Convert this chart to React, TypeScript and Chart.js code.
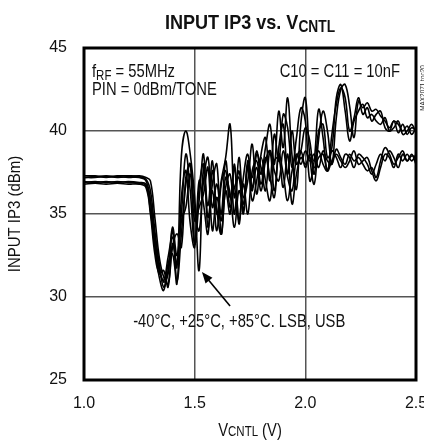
import React, { useEffect, useRef } from "react";
import { Chart, registerables } from "chart.js";

Chart.register(...registerables);

// V_CNTL (V)
const VCNTL = [
  1.0, 1.05, 1.1, 1.15, 1.2, 1.25, 1.28, 1.3, 1.32, 1.34,
  1.36, 1.38, 1.4, 1.42, 1.44, 1.46, 1.48, 1.5, 1.52, 1.54,
  1.56, 1.58, 1.6, 1.62, 1.64, 1.66, 1.68, 1.7, 1.72, 1.74,
  1.76, 1.78, 1.8, 1.82, 1.84, 1.86, 1.88, 1.9, 1.92, 1.94,
  1.96, 1.98, 2.0, 2.02, 2.04, 2.06, 2.08, 2.1, 2.12, 2.14,
  2.16, 2.18, 2.2, 2.22, 2.24, 2.26, 2.28, 2.3, 2.32, 2.34,
  2.36, 2.38, 2.4, 2.42, 2.44, 2.46, 2.48, 2.5,
];

// INPUT IP3 (dBm) — six traces (-40/+25/+85 °C, LSB/USB)
const IIP3_U1 = [
  37.2, 37.25, 37.2, 37.25, 37.2, 37.2, 37.0, 35.8, 33.2, 31.6,
  31.0, 32.4, 33.6, 31.8, 38.5, 40.0, 38.6, 36.0, 31.6, 37.8,
  35.5, 38.2, 35.0, 37.0, 38.4, 40.4, 36.0, 37.6, 35.2, 38.2,
  37.2, 38.8, 37.4, 39.0, 40.4, 38.0, 41.2, 39.0, 42.0, 38.5,
  36.5, 40.5, 42.0, 38.5, 36.8, 39.5, 41.2, 40.0, 38.0, 40.8,
  42.5, 42.8, 41.5, 39.6, 41.8, 41.4, 41.7, 41.2, 41.3, 40.9,
  40.6, 40.2, 40.6, 40.4, 40.0, 40.3, 39.8, 40.2,
];
const IIP3_U2 = [
  37.3, 37.3, 37.25, 37.3, 37.3, 37.25, 37.1, 36.4, 34.0, 32.0,
  30.6, 31.6, 34.2, 32.5, 35.0, 38.6, 36.4, 33.2, 35.8, 38.6,
  34.2, 36.8, 38.0, 33.8, 36.6, 37.4, 35.0, 38.4, 36.0, 37.0,
  39.2, 36.2, 38.6, 39.6, 37.0, 39.8, 38.2, 41.0, 40.2, 37.8,
  39.6, 41.4, 40.6, 37.0, 38.2, 41.3, 39.6, 37.6, 39.8, 41.6,
  42.6, 42.0, 40.0, 40.8, 42.0, 41.0, 41.4, 40.6, 41.0, 41.2,
  40.2, 40.0, 40.6, 39.9, 40.4, 39.8, 40.2, 40.0,
];
const IIP3_U3 = [
  37.2, 37.2, 37.3, 37.2, 37.25, 37.3, 37.2, 37.0, 34.8, 32.4,
  31.2, 30.8, 33.0, 33.8, 33.0, 37.2, 38.0, 35.2, 34.0, 37.0,
  38.4, 35.4, 36.8, 35.0, 38.2, 36.0, 37.8, 34.6, 37.2, 38.6,
  36.6, 37.8, 36.4, 38.2, 38.8, 36.4, 39.0, 40.4, 37.4, 40.0,
  38.0, 38.8, 40.2, 39.4, 37.4, 40.0, 40.4, 38.4, 39.0, 42.0,
  42.8, 41.2, 39.4, 40.6, 41.2, 41.6, 40.8, 41.0, 40.6, 40.4,
  40.8, 40.0, 40.2, 40.6, 39.8, 40.0, 40.4, 39.9,
];
const IIP3_L1 = [
  36.9, 36.95, 36.9, 36.95, 36.9, 36.85, 36.7, 35.2, 33.0, 31.2,
  30.4, 32.0, 32.6, 30.8, 36.0, 37.6, 34.4, 33.0, 37.0, 35.6,
  33.8, 37.6, 35.2, 33.8, 36.4, 35.0, 38.0, 34.4, 36.8, 35.0,
  37.6, 38.2, 36.8, 38.4, 37.2, 36.0, 38.6, 37.4, 35.8, 37.6,
  38.6, 38.0, 38.8, 38.2, 38.6, 37.8, 38.8, 38.2, 38.0, 38.9,
  38.4, 38.0, 38.6, 38.2, 38.4, 38.0, 37.6, 37.8, 37.2, 38.2,
  39.0, 38.6, 38.0, 38.4, 38.8, 38.2, 38.5, 38.4,
];
const IIP3_L2 = [
  36.95, 36.9, 36.95, 36.9, 36.95, 36.9, 36.8, 35.8, 33.6, 31.8,
  30.9, 31.4, 34.0, 31.0, 33.8, 36.8, 38.0, 33.2, 36.6, 38.0,
  34.8, 36.4, 34.0, 36.8, 37.6, 35.4, 36.6, 37.2, 35.0, 37.8,
  36.4, 38.6, 37.8, 36.4, 38.8, 37.6, 37.0, 38.8, 37.2, 36.4,
  38.4, 38.8, 37.8, 38.6, 38.2, 38.8, 38.0, 37.6, 38.8, 38.4,
  37.8, 38.6, 38.4, 37.8, 38.6, 38.4, 38.0, 37.4, 38.0, 38.6,
  38.2, 38.8, 38.4, 37.8, 38.6, 38.2, 38.6, 38.0,
];
const IIP3_L3 = [
  36.8, 36.85, 36.8, 36.85, 36.8, 36.8, 36.6, 35.0, 32.6, 31.4,
  31.6, 30.6, 33.2, 32.0, 34.6, 35.4, 37.4, 34.6, 35.4, 36.2,
  37.8, 34.0, 36.0, 34.6, 37.2, 36.2, 34.2, 36.4, 35.6, 38.0,
  35.8, 37.0, 38.4, 37.0, 35.8, 38.2, 38.4, 36.6, 38.6, 35.6,
  37.4, 38.4, 38.0, 38.4, 37.8, 38.4, 38.6, 37.6, 38.2, 38.6,
  38.2, 37.8, 38.2, 38.8, 38.0, 38.2, 38.4, 37.6, 37.0, 37.8,
  38.6, 38.4, 37.8, 38.6, 38.2, 38.6, 38.2, 38.6,
];

const SERIES = [IIP3_U1, IIP3_U2, IIP3_U3, IIP3_L1, IIP3_L2, IIP3_L3];
const SERIES_NAMES = ["U1", "U2", "U3", "L1", "L2", "L3"];

const X_MIN = 1.0;
const X_MAX = 2.5;
const X_STEP = 0.5;
const Y_MIN = 25;
const Y_MAX = 45;
const Y_STEP = 5;

const TITLE_MAIN = "INPUT IP3 vs. V";
const TITLE_SUB = "CNTL";
const X_TITLE_MAIN = "V";
const X_TITLE_SUB = "CNTL";
const X_TITLE_END = " (V)";
const Y_TITLE = "INPUT IP3 (dBm)";
const NOTE_FRF = " = 55MHz";
const NOTE_PIN = "PIN = 0dBm/TONE";
const NOTE_TEMPS = "-40°C, +25°C, +85°C. LSB, USB";
const NOTE_CAPS = "C10 = C11 = 10nF";
const TOC = "MAX2071 toc20";

const FONT = "'Liberation Sans', Arial, sans-serif";

type Part = { t: string; size: number; dy?: number; bold?: boolean };

function drawRich(
  ctx: CanvasRenderingContext2D,
  parts: Part[],
  x: number,
  y: number,
  align: "left" | "center" | "right",
  sx = 0.82
) {
  const widths = parts.map((p) => {
    ctx.font = `${p.bold ? "bold " : ""}${p.size}px ${FONT}`;
    return ctx.measureText(p.t).width * sx;
  });
  const total = widths.reduce((a, b) => a + b, 0);
  let cx = align === "left" ? x : align === "center" ? x - total / 2 : x - total;
  ctx.textAlign = "left";
  ctx.textBaseline = "alphabetic";
  parts.forEach((p, i) => {
    ctx.save();
    ctx.font = `${p.bold ? "bold " : ""}${p.size}px ${FONT}`;
    ctx.translate(cx, y + (p.dy || 0));
    ctx.scale(sx, 1);
    ctx.fillText(p.t, 0, 0);
    ctx.restore();
    cx += widths[i];
  });
}

const decorPlugin = {
  id: "decor",
  afterDatasetsDraw(chart: any) {
    const { ctx, chartArea: a, scales } = chart;
    const xs = scales.x;
    const ys = scales.y;
    ctx.save();
    // frame
    ctx.strokeStyle = "#000";
    ctx.lineWidth = 3;
    ctx.strokeRect(a.left, a.top, a.right - a.left, a.bottom - a.top);

    ctx.fillStyle = "#111";
    // title
    drawRich(ctx, [
      { t: TITLE_MAIN, size: 21, bold: true },
      { t: TITLE_SUB, size: 16, dy: 3, bold: true },
    ], (a.left + a.right) / 2, 29, "center", 0.86);

    // x title
    drawRich(ctx, [
      { t: X_TITLE_MAIN, size: 18 },
      { t: X_TITLE_SUB, size: 14 },
      { t: X_TITLE_END, size: 18 },
    ], (a.left + a.right) / 2, 436, "center");

    // y title (rotated)
    ctx.save();
    ctx.translate(20, (a.top + a.bottom) / 2);
    ctx.rotate(-Math.PI / 2);
    drawRich(ctx, [{ t: Y_TITLE, size: 17 }], 0, 0, "center", 0.88);
    ctx.restore();

    // notes
    drawRich(ctx, [
      { t: "f", size: 18 },
      { t: "RF", size: 14, dy: 3 },
      { t: NOTE_FRF, size: 18 },
    ], a.left + 8, 77, "left");
    drawRich(ctx, [{ t: NOTE_PIN, size: 18 }], a.left + 8, 95, "left");
    drawRich(ctx, [{ t: NOTE_CAPS, size: 18 }], a.right - 16, 77, "right");
    drawRich(ctx, [{ t: NOTE_TEMPS, size: 18 }], xs.getPixelForValue(1.222), 327, "left");

    // arrow
    const tx = xs.getPixelForValue(1.533);
    const ty = ys.getPixelForValue(31.5);
    const sx = xs.getPixelForValue(1.66);
    const sy = ys.getPixelForValue(29.46);
    const ang = Math.atan2(ty - sy, tx - sx);
    ctx.strokeStyle = "#000";
    ctx.lineWidth = 1.6;
    ctx.beginPath();
    ctx.moveTo(sx, sy);
    ctx.lineTo(tx - 6 * Math.cos(ang), ty - 6 * Math.sin(ang));
    ctx.stroke();
    ctx.beginPath();
    ctx.moveTo(tx, ty);
    ctx.lineTo(tx - 11 * Math.cos(ang) + 4.5 * Math.sin(ang), ty - 11 * Math.sin(ang) - 4.5 * Math.cos(ang));
    ctx.lineTo(tx - 11 * Math.cos(ang) - 4.5 * Math.sin(ang), ty - 11 * Math.sin(ang) + 4.5 * Math.cos(ang));
    ctx.closePath();
    ctx.fillStyle = "#000";
    ctx.fill();

    // toc label
    ctx.save();
    ctx.translate(a.right + 6, a.top + 40);
    ctx.rotate(-Math.PI / 2);
    ctx.fillStyle = "#222";
    drawRich(ctx, [{ t: TOC, size: 8 }], 0, 3, "center", 0.8);
    ctx.restore();

    ctx.restore();
  },
};

export default function App() {
  const ref = useRef<HTMLCanvasElement | null>(null);
  useEffect(() => {
    document.body.style.margin = "0";
    const canvas = ref.current;
    if (!canvas) return;
    const chart = new Chart(canvas, {
      type: "line",
      data: {
        datasets: SERIES.map((s, i) => ({
          label: SERIES_NAMES[i],
          data: VCNTL.map((v, j) => ({ x: v, y: s[j] })),
          borderColor: "#000",
          borderWidth: 1.6,
          pointRadius: 0,
          tension: 0.4,
          fill: false,
        })),
      },
      options: {
        responsive: false,
        animation: false,
        layout: { padding: { top: 48, right: 8, left: 0, bottom: 0 } },
        plugins: {
          legend: { display: false },
          tooltip: { enabled: false },
          title: { display: false },
        },
        scales: {
          x: {
            type: "linear",
            min: X_MIN,
            max: X_MAX,
            grid: { color: "#555", lineWidth: 1.5, drawTicks: false },
            border: { display: false },
            ticks: {
              stepSize: X_STEP,
              padding: 14,
              color: "#111",
              font: { family: FONT, size: 16 },
              maxRotation: 0,
              callback: (v: any) => Number(v).toFixed(1),
            },
            afterFit: (s: any) => {
              s.height = 62;
              s.paddingLeft = 0;
              s.paddingRight = 0;
            },
          },
          y: {
            type: "linear",
            min: Y_MIN,
            max: Y_MAX,
            grid: { color: "#555", lineWidth: 1.5, drawTicks: false },
            border: { display: false },
            ticks: {
              stepSize: Y_STEP,
              padding: 17,
              color: "#111",
              font: { family: FONT, size: 16 },
            },
            afterFit: (s: any) => {
              s.width = 84;
              s.paddingTop = 0;
              s.paddingBottom = 0;
            },
          },
        },
      },
      plugins: [decorPlugin],
    });
    return () => chart.destroy();
  }, []);
  return (
    <div style={{ width: 424, height: 442 }}>
      <canvas ref={ref} width={424} height={442} style={{ display: "block", width: 424, height: 442 }} />
    </div>
  );
}
